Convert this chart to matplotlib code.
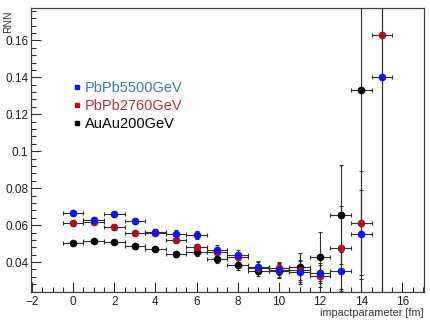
import numpy as np
import matplotlib
matplotlib.use("Agg")
import matplotlib.pyplot as plt
from matplotlib.ticker import MultipleLocator, FuncFormatter
from matplotlib.lines import Line2D

plt.rcParams['font.family'] = ['Liberation Sans', 'DejaVu Sans']

# impact parameter bins (fm)
b = np.arange(0, 16)
bx_err = 0.5

# RNN per bin
pbpb5500 = [0.0666, 0.0629, 0.0658, 0.0624, 0.0563, 0.0552, 0.0545, 0.0466, 0.0437,
            0.0376, 0.0355, 0.0344, 0.0340, 0.0352, 0.0551, 0.1404]
pbpb5500_err = [0.0015, 0.0013, 0.0015, 0.0017, 0.0018, 0.0020, 0.0022, 0.0025, 0.0027,
                0.0030, 0.0035, 0.0060, 0.0055, 0.0100, 0.0240, 0.1600]
pbpb2760 = [0.0611, 0.0617, 0.0591, 0.0559, 0.0558, 0.0521, 0.0479, 0.0452, 0.0425,
            0.0370, 0.0367, 0.0358, 0.0324, 0.0474, 0.0612, 0.1628]
pbpb2760_err = [0.0014, 0.0013, 0.0015, 0.0016, 0.0018, 0.0019, 0.0021, 0.0024, 0.0026,
                0.0030, 0.0035, 0.0055, 0.0060, 0.0230, 0.0280, 0.1600]
auau200 = [0.0501, 0.0515, 0.0510, 0.0485, 0.0471, 0.0443, 0.0456, 0.0418, 0.0386,
           0.0353, 0.0353, 0.0371, 0.0429, 0.0656, 0.1332]
auau200_err = [0.0010, 0.0010, 0.0011, 0.0013, 0.0015, 0.0018, 0.0021, 0.0024, 0.0027,
               0.0030, 0.0040, 0.0080, 0.0134, 0.0268, 0.1200]

series = [
    ("AuAu200GeV", b[:len(auau200)], auau200, auau200_err, "black", "black"),
    ("PbPb2760GeV", b, pbpb2760, pbpb2760_err, "#a5161d", "#b3323c"),
    ("PbPb5500GeV", b, pbpb5500, pbpb5500_err, "#1414e6", "#3a7bb5"),
]

fig = plt.figure(figsize=(4.31, 3.21), dpi=100)
ax = fig.add_axes([31/431, 29/321, 393/431, 284/321])

for name, x, y, e, mc, tc in series:
    ax.errorbar(x, y, xerr=bx_err, yerr=e, fmt='o', ms=4.5, mfc=mc, mec=mc,
                ecolor='#303030', elinewidth=0.8, capsize=1.6, capthick=0.8, zorder=3)

ax.set_xlim(-2.05, 17.05)
ax.set_ylim(0.0238, 0.1775)

ax.xaxis.set_major_locator(MultipleLocator(2))
ax.xaxis.set_minor_locator(MultipleLocator(0.5))
ax.yaxis.set_major_locator(MultipleLocator(0.02))
ax.yaxis.set_minor_locator(MultipleLocator(0.004))
ax.yaxis.set_major_formatter(FuncFormatter(lambda v, p: "%g" % round(v, 3)))
ax.tick_params(which='both', direction='in', top=False, right=False,
               labelsize=8.5, colors='#303030', labelcolor='#222222')
ax.tick_params(which='major', length=7, width=0.8)
ax.tick_params(which='minor', length=3.5, width=0.8)
ax.tick_params(axis='y', pad=2)
ax.tick_params(axis='x', pad=3)
for s in ax.spines.values():
    s.set_color('#404040')
    s.set_linewidth(0.9)

ax.set_xlabel("impactparameter [fm]", fontsize=7.8, color='#333333')
ax.xaxis.set_label_coords(1.0, -0.074)
ax.xaxis.label.set_ha('right')
ax.xaxis.label.set_va('center')
ax.set_ylabel("RNN", fontsize=7.5, color='#333333')
ax.yaxis.set_label_coords(-0.058, 0.99)
ax.yaxis.label.set_ha('right')
ax.yaxis.label.set_va('center')

handles = []
labels = []
colors = []
for name, x, y, e, mc, tc in series[::-1]:
    handles.append(Line2D([], [], ls='none', marker='s', ms=2.2, mfc=mc, mec=mc))
    labels.append(name)
    colors.append(tc)
leg = ax.legend(handles, labels, loc='upper left', bbox_to_anchor=(0.11, 0.742),
                frameon=False, fontsize=10.5, handlelength=0.4, handletextpad=0.35,
                labelspacing=0.28, borderpad=0, borderaxespad=0)
for t, c in zip(leg.get_texts(), colors):
    t.set_color(c)

fig.savefig("out.png", dpi=100)
